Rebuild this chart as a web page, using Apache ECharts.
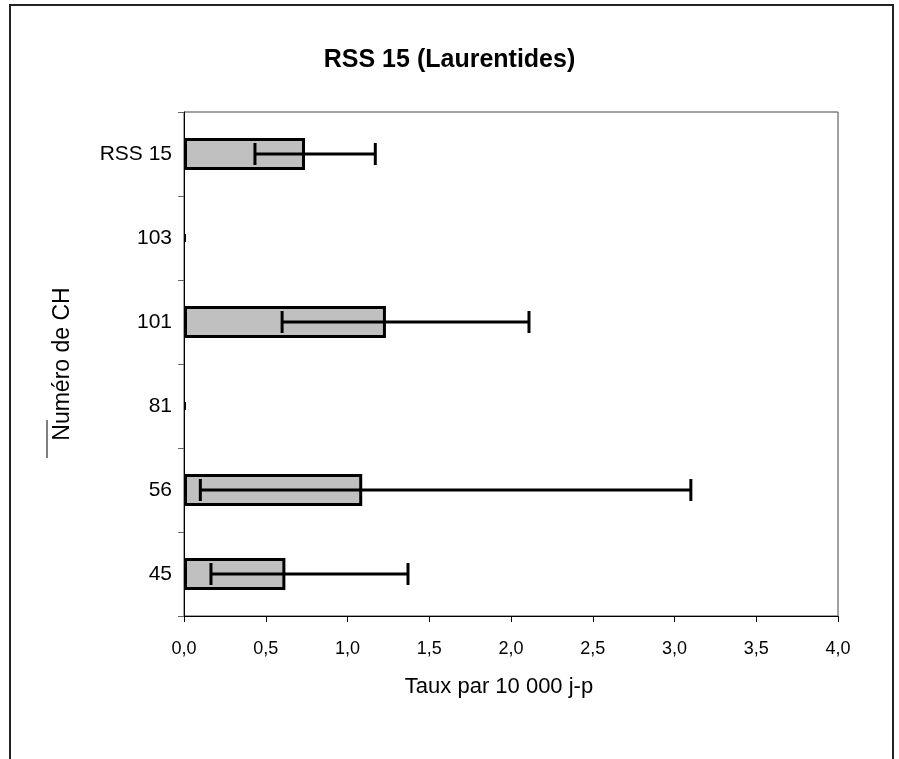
<!DOCTYPE html>
<html>
<head>
<meta charset="utf-8">
<script src="https://cdn.jsdelivr.net/npm/echarts@6/dist/echarts.min.js"></script>
<style>html,body{margin:0;padding:0;background:#fff}#c{width:899px;height:759px}</style>
</head>
<body>
<div id="c"></div>
<script>
const categories = ['45', '56', '81', '101', '103', 'RSS 15'];
const rates = [0.62, 1.09, 0, 1.235, 0, 0.74];
const lowCI = [0.165, 0.10, 0, 0.60, 0, 0.434];
const highCI = [1.37, 3.10, 0, 2.11, 0, 1.17];
const xTicks = [0, 4, 0.5];

const errData = categories.map((c, i) => [i, lowCI[i], highCI[i]]);
const barData = rates.map(v => v > 0 ? v : {value: v, itemStyle: {borderWidth: 0}});

const chart = echarts.init(document.getElementById('c'), null, {renderer: 'canvas'});
const font = 'Liberation Sans, Arial, sans-serif';
chart.setOption({
  animation: false,
  backgroundColor: '#fff',
  title: {
    text: 'RSS 15 (Laurentides)',
    left: 'center', top: 43,
    textStyle: {fontFamily: font, fontSize: 25, fontWeight: 'bold', color: '#000'}
  },
  grid: {left: 184, right: 61, top: 112, bottom: 143, show: true, borderColor: '#444', borderWidth: 1},
  xAxis: {
    type: 'value', min: xTicks[0], max: xTicks[1], interval: xTicks[2],
    name: 'Taux par 10 000 j-p', nameLocation: 'middle', nameGap: 60,
    nameTextStyle: {fontFamily: font, fontSize: 22, color: '#000', padding: [0, 24, 0, 0]},
    axisLine: {show: true, lineStyle: {color: '#000', width: 1}},
    axisTick: {show: true, length: 6, lineStyle: {color: '#000'}},
    axisLabel: {fontFamily: font, fontSize: 18, color: '#000', margin: 24,
      formatter: v => v.toFixed(1).replace('.', ',')},
    splitLine: {show: false}
  },
  yAxis: {
    type: 'category', data: categories,
    name: 'Numéro de CH', nameLocation: 'middle', nameGap: 110,
    nameTextStyle: {fontFamily: font, fontSize: 23, color: '#000'},
    axisLine: {show: true, lineStyle: {color: '#000', width: 1}},
    axisTick: {show: true, length: 6, lineStyle: {color: '#666'}},
    axisLabel: {fontFamily: font, fontSize: 21, color: '#000', margin: 12},
    splitLine: {show: false}
  },
  series: [
    {
      type: 'bar', data: barData, barWidth: 32,
      itemStyle: {color: '#c0c0c0', borderColor: '#000', borderWidth: 3}
    },
    {
      type: 'custom', data: errData, z: 10,
      renderItem: function (params, api) {
        const idx = api.value(0);
        const lo = api.coord([api.value(1), idx]);
        const hi = api.coord([api.value(2), idx]);
        const st = {stroke: '#000', lineWidth: 3};
        if (api.value(2) <= 0) {
          return {type: 'line', shape: {x1: lo[0] + 1, y1: lo[1] - 4, x2: lo[0] + 1, y2: lo[1] + 4}, style: {stroke: '#000', lineWidth: 2}};
        }
        const h = 11;
        return {
          type: 'group',
          children: [
            {type: 'line', shape: {x1: lo[0], y1: lo[1], x2: hi[0], y2: hi[1]}, style: st},
            {type: 'line', shape: {x1: lo[0], y1: lo[1] - h, x2: lo[0], y2: lo[1] + h}, style: st},
            {type: 'line', shape: {x1: hi[0], y1: hi[1] - h, x2: hi[0], y2: hi[1] + h}, style: st}
          ]
        };
      }
    }
  ],
  graphic: [
    {type: 'rect', shape: {x: 10, y: 5, width: 883, height: 800}, style: {fill: 'none', stroke: '#222', lineWidth: 2}, silent: true},
    {type: 'line', shape: {x1: 47, y1: 420, x2: 47, y2: 458}, style: {stroke: '#000', lineWidth: 1}, silent: true}
  ]
});
</script>
</body>
</html>
